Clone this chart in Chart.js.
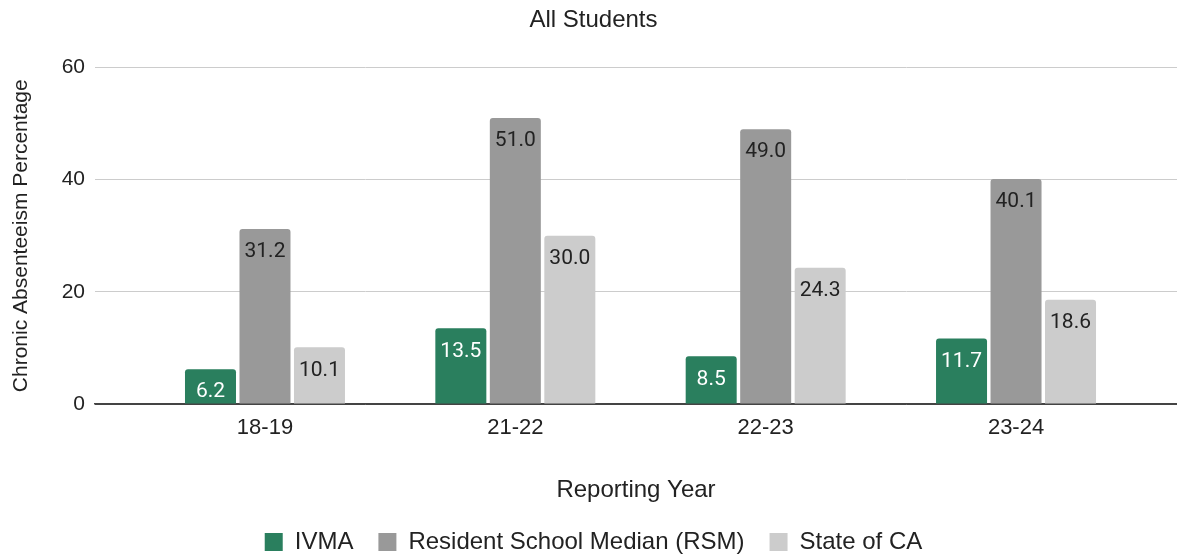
<!DOCTYPE html>
<html>
<head>
<meta charset="utf-8">
<script src="https://cdn.jsdelivr.net/npm/chart.js@4"></script>
<style>
  html, body { margin: 0; padding: 0; background: #fff; }
  #wrap { width: 1177px; height: 554px; }
</style>
</head>
<body>
<div id="wrap"><canvas id="chart"></canvas></div>
<script>
const years = ["18-19", "21-22", "22-23", "23-24"];
const ivma = [6.2, 13.5, 8.5, 11.7];
const rsm = [31.2, 51.0, 49.0, 40.1];
const stateCA = [10.1, 30.0, 24.3, 18.6];
const yTicks = [0, 20, 40, 60];

const font = "'Liberation Sans', Arial, sans-serif";

// bar value written inside the top of each bar
const barLabels = {
    id: "barLabels",
    afterDatasetsDraw(chart) {
        const ctx = chart.ctx;
        ctx.save();
        ctx.font = "21px Roboto";
        ctx.textAlign = "center";
        ctx.textBaseline = "middle";
        chart.data.datasets.forEach((ds, i) => {
            const meta = chart.getDatasetMeta(i);
            meta.data.forEach((bar, j) => {
                ctx.fillStyle = i === 0 ? "#ffffff" : "#222222";
                ctx.fillText(ds.data[j].y.toFixed(1), bar.x, bar.y + 23);
            });
        });
        ctx.restore();
    }
};

function toPoints(values) {
    return values.map((v, i) => ({ x: i, y: v }));
}

function makeSet(label, values, color) {
    return {
        label: label,
        data: toPoints(values),
        backgroundColor: color,
        borderWidth: 0,
        borderRadius: { topLeft: 3, topRight: 3 },
        borderSkipped: "bottom",
        categoryPercentage: 0.653,
        barPercentage: 0.936
    };
}

new Chart(document.getElementById("chart"), {
    type: "bar",
    data: {
        datasets: [
            makeSet("IVMA", ivma, "#2a7f5e"),
            makeSet("Resident School Median (RSM)", rsm, "#999999"),
            makeSet("State of CA", stateCA, "#cccccc")
        ]
    },
    options: {
        responsive: true,
        maintainAspectRatio: false,
        animation: false,
        layout: { padding: { left: 0, right: -10, top: 0, bottom: -10 } },
        plugins: {
            title: {
                display: true,
                text: "All Students",
                color: "#222",
                font: { family: font, size: 24, weight: "normal" },
                padding: { top: 6, bottom: 32.7 }
            },
            legend: {
                position: "bottom",
                labels: {
                    color: "#222",
                    font: { family: font, size: 24 },
                    boxWidth: 18,
                    boxHeight: 18,
                    padding: 25
                }
            },
            tooltip: { enabled: false }
        },
        scales: {
            x: {
                type: "linear",
                min: -0.679,
                max: 3.643,
                offset: false,
                grid: { display: false },
                border: { display: true, color: "#444", width: 1.5 },
                afterBuildTicks: s => { s.ticks = years.map((_, i) => ({ value: i })); },
                afterFit: s => { s.height = 101; },
                ticks: {
                    color: "#222",
                    font: { family: font, size: 22 },
                    padding: 3,
                    callback: v => years[v]
                },
                title: {
                    display: true,
                    text: "Reporting Year",
                    color: "#222",
                    font: { family: font, size: 24 },
                    padding: { top: 0, bottom: 0 }
                }
            },
            y: {
                min: 0,
                max: 60,
                afterBuildTicks: s => { s.ticks = yTicks.map(v => ({ value: v })); },
                afterFit: s => { s.width = 95; },
                grid: {
                    color: c => (c.tick && c.tick.value === 0 ? "#444" : "#cccccc"),
                    drawTicks: false
                },
                border: { display: false },
                ticks: {
                    color: "#222",
                    font: { family: font, size: 21 },
                    padding: 10
                },
                title: {
                    display: true,
                    text: "Chronic Absenteeism Percentage",
                    color: "#222",
                    font: { family: font, size: 21 },
                    padding: { top: 9, bottom: 0 }
                }
            }
        }
    },
    plugins: [barLabels]
});
</script>
</body>
</html>
